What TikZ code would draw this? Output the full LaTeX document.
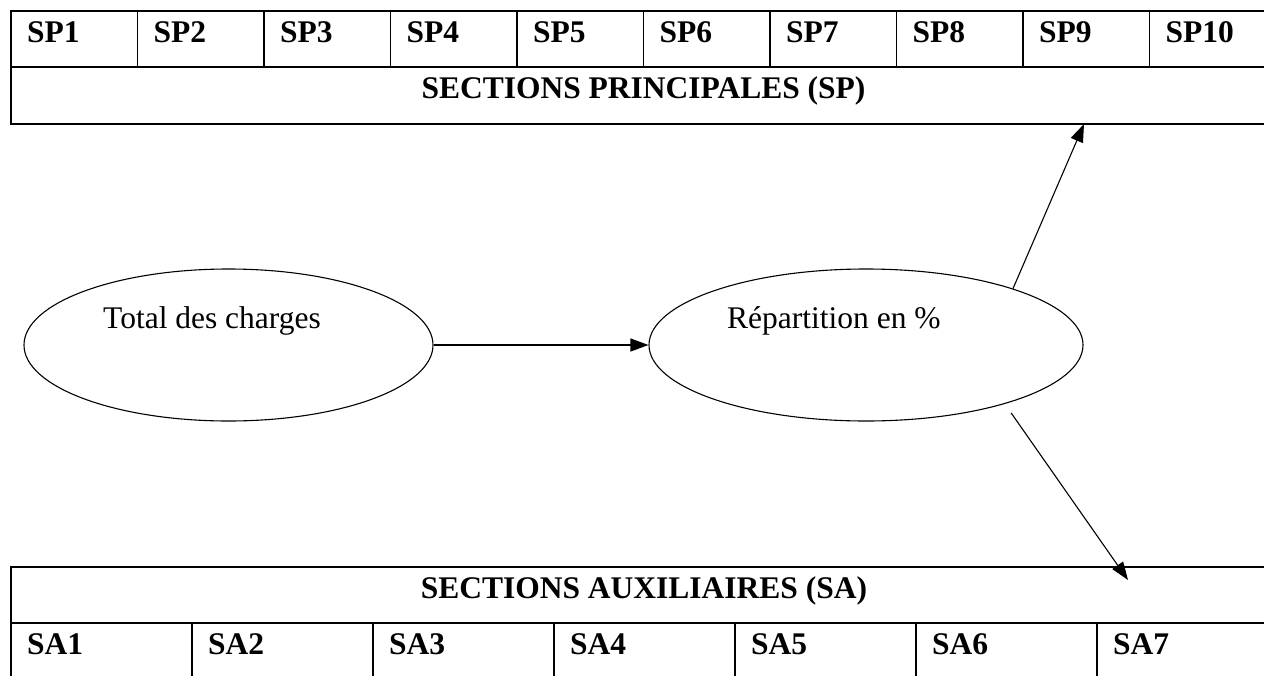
\documentclass[tikz,border=0pt]{standalone}
\usepackage{fontspec}
\setmainfont{Liberation Serif}
\usetikzlibrary{arrows.meta,shapes.geometric}
\begin{document}
\begin{tikzpicture}[x=1pt,y=-1pt,
  rule/.style={line width=1.6pt},
  celltxt/.style={anchor=base west,inner sep=0pt,font=\fontsize{31.5}{36}\selectfont\bfseries},
  headtxt/.style={anchor=base,inner sep=0pt,font=\fontsize{31.5}{36}\selectfont\bfseries},
  bubble/.style={ellipse,draw,line width=1.1pt,inner sep=0pt},
  bubbletxt/.style={anchor=base west,inner sep=0pt,font=\fontsize{31.5}{36}\selectfont},
  flow/.style={line width=1.1pt,-{Triangle[length=18pt,width=13pt]}}]
\useasboundingbox (0,0) rectangle (1264,675);
\fill[white] (0,0) rectangle (1264,675);
\clip (0,0) rectangle (1264,675);

% main sections table (top)
\draw[rule] (1290,11) -- (11,11) -- (11,124) -- (1290,124);
\draw[rule] (11,67) -- (1290,67);
\foreach \i in {1,...,9} \draw[rule] (11+\i*126.5,11) -- (11+\i*126.5,67);
\foreach \i in {1,...,10} \node[celltxt] (sp\i) at (27+\i*126.5-126.5,42) {SP\i};
\node[headtxt] (sp) at (643.5,98) {SECTIONS PRINCIPALES (SP)};

% auxiliary sections table (bottom)
\draw[rule] (1290,567) -- (11,567) -- (11,690);
\draw[rule] (11,623) -- (1290,623);
\foreach \i in {1,...,6} \draw[rule] (11+\i*181,623) -- (11+\i*181,690);
\foreach \i in {1,...,7} \node[celltxt] (sa\i) at (27+\i*181-181,654) {SA\i};
\node[headtxt] (sa) at (644,598) {SECTIONS AUXILIAIRES (SA)};

% the two ellipses
\node[bubble,minimum width=409pt,minimum height=152pt] (tc) at (228.5,345) {};
\node[bubble,minimum width=434pt,minimum height=152pt] (rp) at (866,345) {};
\node[bubbletxt] (tctxt) at (103,328) {Total des charges};
\node[bubbletxt] (rptxt) at (727,328) {Répartition en \%};

% connectors
\coordinate (spin) at (1084,124);
\coordinate (sain) at (1128,580);
\draw[flow] (tc.east) -- (rp.west);
\draw[flow] (rp.21.2) -- (spin);
\draw[flow,shorten <=11pt] (rp.-23.4) -- (sain);
\end{tikzpicture}
\end{document}
